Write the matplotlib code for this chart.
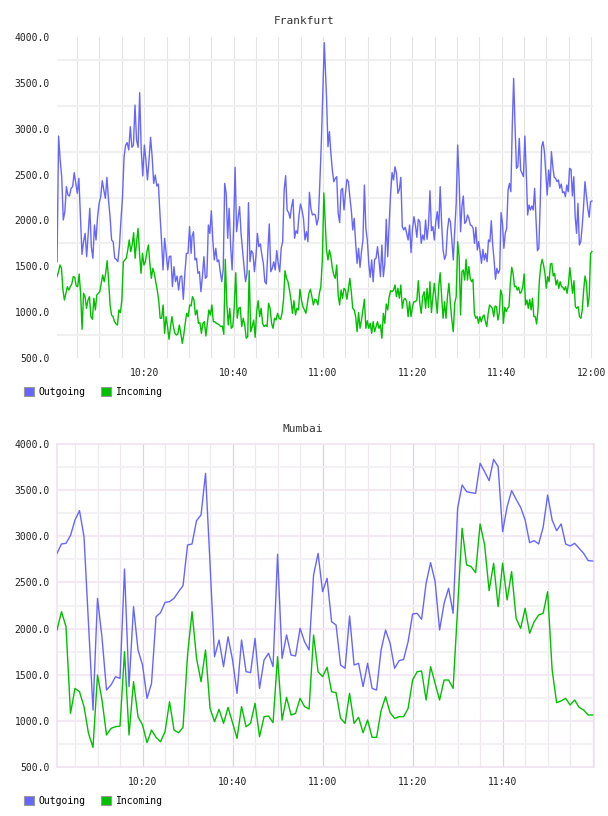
import numpy as np
import matplotlib
matplotlib.use("Agg")
import matplotlib.pyplot as plt
from matplotlib.patches import Patch

# ---------------- data ----------------
# Frankfurt, read in four consecutive stretches (time spans in minutes after 10:00)
fra_out_a = [1550, 2920, 2659, 2477, 2005, 2095, 2368, 2277, 2266, 2350, 2368, 2521, 2404, 2295, 2459, 2041, 1630, 1768, 1859, 1605, 1859, 2132, 1714, 1587, 1950, 1787, 2041, 2186, 2259, 2433, 2332, 2241, 2470, 2223, 2041, 1787, 1768, 1587, 1576, 1550, 1714, 2005, 2259, 2695, 2822, 2848, 2768, 3022, 2797, 2822, 3258, 2877, 2797, 3393, 2768, 2484, 2822, 2659, 2441, 2659, 2906, 2695, 2404, 2495, 2375, 2397, 2077, 1787, 1460, 1805, 1641, 1460, 1605, 1612, 1278, 1496, 1332, 1394, 1241, 1387, 1394, 1140, 1423, 1641, 1641, 1932, 1641]
fra_out_b = [1823, 1877, 1569, 1587, 1423, 1441, 1223, 1387, 1605, 1369, 1387, 1950, 1859, 2106, 1787, 1569, 1696, 1550, 1569, 1441, 1332, 1460, 2404, 2295, 1805, 2132, 1714, 1460, 1932, 2579, 1877, 2023, 2150, 1859, 1678, 1496, 1332, 1423, 2194, 1550, 1670, 1641, 1441, 1605, 1859, 1714, 1743, 1623, 1532, 1332, 1307, 1660, 1961, 1441, 1478, 1550, 1460, 1670, 1532, 1441, 1696, 1768, 2332, 2488, 2113, 2085, 2023, 2150, 2230, 1805, 1888, 1859, 2059, 2179, 2113, 2023, 1787, 1877, 1768, 2306, 2132, 2059, 2070, 2059, 1950, 2023, 2404, 2840, 3386, 3938]
fra_out_c = [3349, 2804, 2968, 2731, 2550, 2422, 2459, 2477, 2077, 1976, 2332, 2350, 2114, 2295, 2448, 2423, 2259, 2114, 1896, 2023, 1750, 1532, 1696, 1489, 1659, 1787, 2386, 1914, 1787, 1532, 1380, 1569, 1332, 1576, 1587, 1714, 1569, 1387, 1732, 1387, 1532, 2012, 1605, 1968, 2295, 2521, 2441, 2586, 2513, 2295, 2339, 2470, 1932, 1896, 1925, 1859, 1787, 1950, 1648, 1903, 2041, 1950, 1816, 2012, 1986, 1750, 1841, 1787, 2005, 1794, 1950, 2324, 1888, 1932, 1787, 1986, 2095, 1914, 2368, 1968, 1677, 1576, 1623, 1896, 2023, 1986, 1787, 1569, 1896, 2186, 2822, 2441, 1877]
fra_out_d = [2150, 2266, 1968, 1986, 2059, 2023, 1950, 1943, 1914, 1750, 1925, 1678, 1768, 1660, 1532, 1685, 1569, 1641, 1550, 1787, 1768, 1997, 1732, 1569, 1358, 1478, 1423, 1460, 2085, 1968, 1696, 1859, 1914, 2332, 2404, 2313, 3022, 3549, 3022, 2568, 2586, 2895, 2550, 2513, 2477, 2920, 2532, 2059, 2168, 2114, 2157, 2114, 2350, 2005, 1670, 1696, 2186, 2804, 2859, 2750, 2513, 2277, 2550, 2368, 2750, 2586, 2470, 2459, 2423, 2441, 2350, 2397, 2303, 2313, 2259, 2386, 2313, 2568, 2557, 2266, 2477, 2041, 1859, 2186, 1732, 1768, 1932, 2150, 2423, 2277, 2132, 2034, 2205, 2212]
fra_out_spans = [(0.5, 30.5), (30.7, 60.3), (60.8, 90.8), (91.1, 120.2)]

fra_in_a = [1387, 1441, 1514, 1478, 1241, 1132, 1205, 1278, 1241, 1278, 1307, 1387, 1380, 1285, 1278, 1416, 1205, 813, 1205, 1169, 1042, 1132, 1169, 951, 922, 1151, 1024, 1187, 1205, 1223, 1314, 1405, 1332, 1423, 1561, 1350, 1078, 969, 951, 896, 871, 860, 1024, 995, 1132, 1550, 1569, 1587, 1678, 1787, 1660, 1732, 1867, 1587, 1768, 1914, 1641, 1423, 1641, 1514, 1550, 1660, 1732, 1532, 1369, 1478, 1423, 1332, 1241, 1132, 933, 933, 1078, 769, 951, 842, 704, 842, 951, 842, 769, 751, 762, 860, 769, 660, 751, 878, 987, 951, 1078, 1067]
fra_in_b = [1169, 1132, 969, 1024, 878, 885, 769, 878, 896, 740, 878, 1024, 969, 1078, 896, 896, 878, 871, 860, 842, 849, 758, 1576, 1096, 860, 1042, 824, 842, 1060, 1430, 933, 1042, 1053, 842, 933, 860, 715, 733, 1452, 787, 842, 914, 725, 1005, 1125, 951, 1042, 878, 842, 860, 842, 1096, 1042, 878, 824, 933, 914, 987, 933, 922, 987, 1132, 1452, 1369, 1332, 1241, 1132, 987, 1125, 969, 1042, 1024, 1249, 1132, 1060, 1024, 987, 1096, 1205, 1249, 1169, 1078, 1140, 1132, 1078, 1205, 1278, 1569, 2300]
fra_in_c = [1680, 1569, 1677, 1605, 1478, 1405, 1369, 1514, 1187, 1078, 1241, 1151, 1260, 1241, 1140, 1249, 1369, 1223, 1042, 1024, 951, 787, 995, 824, 914, 1024, 1140, 824, 907, 824, 878, 769, 896, 787, 842, 896, 824, 860, 715, 987, 878, 1089, 1024, 1169, 1234, 1223, 1241, 1296, 1169, 1260, 1151, 1296, 1042, 1133, 1151, 1114, 951, 1114, 951, 1060, 1114, 1114, 1133, 1343, 1096, 987, 1169, 1223, 1042, 1260, 1053, 1332, 995, 1169, 1314, 1151, 987, 1278, 1430, 1169, 933, 1114, 933, 1169, 1314, 1096, 914, 787, 1096, 1169, 1768, 1605, 969]
fra_in_d = [1441, 1460, 1350, 1576, 1350, 1496, 1369, 1332, 1358, 987, 933, 951, 878, 951, 896, 951, 969, 896, 842, 987, 1078, 1060, 1042, 951, 1067, 1060, 914, 987, 1241, 1187, 878, 1053, 1005, 1042, 1060, 1314, 1489, 1423, 1278, 1285, 1241, 1271, 1205, 1223, 1278, 1416, 1078, 1132, 1042, 1140, 1024, 1151, 951, 951, 871, 1024, 1350, 1503, 1576, 1514, 1423, 1260, 1387, 1332, 1525, 1532, 1394, 1423, 1296, 1350, 1260, 1332, 1278, 1271, 1241, 1278, 1205, 1307, 1485, 1350, 1205, 1343, 1060, 1042, 1060, 951, 933, 1024, 1241, 1394, 1321, 1060, 1169, 1641, 1660]
fra_in_spans = [(0.5, 30.5), (30.8, 60.2), (60.8, 90.8), (91.1, 120.2)]

# Mumbai: one sample per minute, 10:01 .. 12:00
mum_minutes = list(range(1, 121))
mum_out = [2816, 2918, 2925, 3010, 3178, 3280, 2997, 2050, 1115, 2328,
           1900, 1332, 1387, 1477, 1459, 2646, 1369, 2237, 1767, 1604,
           1242, 1405, 2128, 2172, 2284, 2292, 2328, 2400, 2465, 2907,
           2918, 3171, 3233, 3685, 2700, 1694, 1875, 1586, 1911, 1658,
           1296, 1875, 1532, 1521, 1893, 1350, 1658, 1731, 1586, 2806,
           1676, 1930, 1712, 1702, 2002, 1857, 1767, 2581, 2816, 2400,
           2545, 2074, 2038, 1604, 1568, 2136, 1604, 1622, 1369, 1622,
           1350, 1332, 1767, 1984, 1839, 1568, 1651, 1665, 1857, 2158,
           2165, 2100, 2491, 2715, 2509, 1984, 2274, 2437, 2165, 3305,
           3558, 3486, 3475, 3468, 3794, 3703, 3605, 3837, 3757, 3052,
           3323, 3497, 3403, 3316, 3178, 2932, 2954, 2918, 3099, 3450,
           3178, 3062, 3135, 2918, 2896, 2925, 2871, 2816, 2737, 2733]
mum_in = [1984, 2183, 2020, 1079, 1350, 1314, 1152, 862, 710, 1495,
          1224, 844, 916, 934, 941, 1749, 844, 1423, 1043, 952,
          761, 898, 819, 771, 880, 1206, 898, 869, 927, 1712,
          2183, 1676, 1423, 1767, 1133, 989, 1123, 971, 1144, 978,
          808, 1152, 934, 971, 1188, 826, 1043, 1050, 978, 1694,
          1007, 1253, 1061, 1079, 1242, 1152, 1126, 1930, 1531, 1477,
          1579, 1314, 1303, 1025, 971, 1296, 971, 1036, 869, 1007,
          819, 819, 1108, 1260, 1086, 1025, 1043, 1043, 1133, 1441,
          1531, 1539, 1224, 1586, 1405, 1224, 1441, 1441, 1350, 2220,
          3088, 2690, 2672, 2607, 3135, 2907, 2411, 2708, 2237, 2708,
          2310, 2618, 2110, 2002, 2219, 1948, 2074, 2147, 2165, 2400,
          1550, 1195, 1215, 1242, 1170, 1224, 1144, 1115, 1061, 1061]

y_ticks = [500, 1000, 1500, 2000, 2500, 3000, 3500, 4000]
fra_tick_minutes = [20, 40, 60, 80, 100, 120]
fra_tick_labels = ["10:20", "10:40", "11:00", "11:20", "11:40", "12:00"]
mum_tick_minutes = [20, 40, 60, 80, 100]
mum_tick_labels = ["10:20", "10:40", "11:00", "11:20", "11:40"]
series_names = ["Outgoing", "Incoming"]

# ---------------- style ----------------
BLUE = "#6666ff"
GREEN = "#00c000"
FONT = "DejaVu Sans Mono"
plt.rcParams["font.family"] = [FONT]


def stitch(parts, spans):
    xs, ys = [], []
    for vals, (t0, t1) in zip(parts, spans):
        xs.append(np.linspace(t0, t1, len(vals)))
        ys.append(np.asarray(vals, dtype=float))
    return np.concatenate(xs), np.concatenate(ys)


W, H = 608, 816
fig = plt.figure(figsize=(W / 100, H / 100), dpi=100)


def px_axes(left, top, right, bottom):
    return fig.add_axes([left / W, 1 - bottom / H, (right - left) / W, (bottom - top) / H])


def common(ax, xlim, ticks, labels):
    ax.set_xlim(*xlim)
    ax.set_ylim(500, 4000)
    ax.set_yticks(y_ticks)
    ax.set_yticklabels([f"{v:.1f}" for v in y_ticks])
    ax.set_xticks(ticks)
    ax.set_xticklabels(labels)
    ax.tick_params(axis="both", length=0, labelsize=7, colors="#222222")
    ax.tick_params(axis="y", pad=5)
    ax.tick_params(axis="x", pad=7.5)
    ax.set_facecolor("white")


# ---- Frankfurt ----
ax1 = px_axes(57, 37, 593.3, 358)
common(ax1, (0.49, 120.5), fra_tick_minutes, fra_tick_labels)
for s in ax1.spines.values():
    s.set_visible(False)
for m in range(5, 121, 5):
    ax1.axvline(m, color="#e4e4e4", lw=0.8, zorder=0)
for v in range(750, 4000, 500):
    ax1.axhline(v, color="#f0f0f0", lw=1.5, zorder=0)
fx, fy = stitch([fra_out_a, fra_out_b, fra_out_c, fra_out_d], fra_out_spans)
gx, gy = stitch([fra_in_a, fra_in_b, fra_in_c, fra_in_d], fra_in_spans)
ax1.plot(fx, fy, color=BLUE, lw=1.0, zorder=3)
ax1.plot(gx, gy, color=GREEN, lw=1.0, zorder=3)

# ---- Mumbai ----
ax2 = px_axes(57, 444.3, 594, 766.7)
common(ax2, (1, 120.3), mum_tick_minutes, mum_tick_labels)
for s in ax2.spines.values():
    s.set_color("#efe2ef")
    s.set_linewidth(1.2)
for m in range(5, 121, 5):
    major = (m % 20 == 0)
    ax2.axvline(m, color="#e0d0e0" if major else "#eee8ee", lw=0.9, zorder=0)
for v in range(750, 4000, 250):
    major = (v % 500 == 0)
    ax2.axhline(v, color="#f3e8f3" if major else "#f3f1f3", lw=1.5, zorder=0)
ax2.plot(mum_minutes, mum_out, color=BLUE, lw=1.0, zorder=3)
ax2.plot(mum_minutes, mum_in, color=GREEN, lw=1.0, zorder=3)

# titles
fig.text(304 / W, 1 - 20.7 / H, "Frankfurt", ha="center", va="center", fontsize=8, color="#333333")
fig.text(303 / W, 1 - 429 / H, "Mumbai", ha="center", va="center", fontsize=8, color="#333333")

# legends
handles = [Patch(facecolor=BLUE, edgecolor="#999999", lw=0.8),
           Patch(facecolor=GREEN, edgecolor="#999999", lw=0.8)]
for ycen in (392, 800.7):
    fig.legend(handles, series_names, loc="center left",
               bbox_to_anchor=(24 / W, 1 - ycen / H), ncol=2, frameon=False,
               fontsize=7, handlelength=1.03, handleheight=1.03,
               handletextpad=0.5, columnspacing=1.6, borderpad=0, borderaxespad=0)

fig.savefig("out.png", dpi=100, facecolor="white")
